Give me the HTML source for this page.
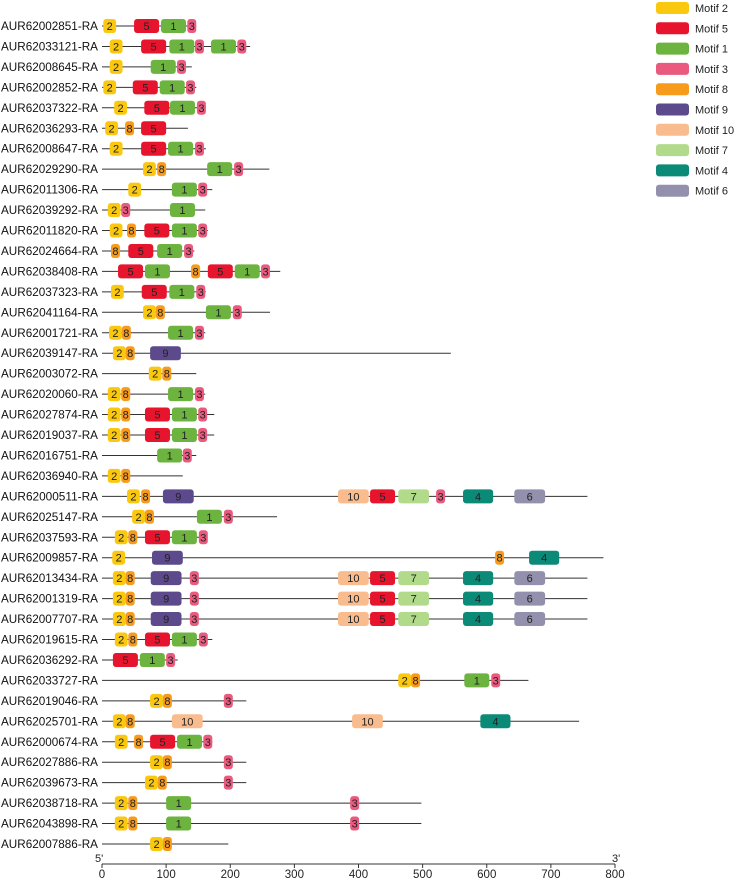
<!DOCTYPE html>
<html><head><meta charset="utf-8"><style>
body{margin:0;background:#fff;}
svg{display:block;font-family:"Liberation Sans",Arial,sans-serif;}
</style></head><body>
<svg id="chart" width="735" height="879" viewBox="0 0 735 879"></svg>
<script>
const genes=["AUR62002851-RA","AUR62033121-RA","AUR62008645-RA","AUR62002852-RA","AUR62037322-RA","AUR62036293-RA","AUR62008647-RA","AUR62029290-RA","AUR62011306-RA","AUR62039292-RA","AUR62011820-RA","AUR62024664-RA","AUR62038408-RA","AUR62037323-RA","AUR62041164-RA","AUR62001721-RA","AUR62039147-RA","AUR62003072-RA","AUR62020060-RA","AUR62027874-RA","AUR62019037-RA","AUR62016751-RA","AUR62036940-RA","AUR62000511-RA","AUR62025147-RA","AUR62037593-RA","AUR62009857-RA","AUR62013434-RA","AUR62001319-RA","AUR62007707-RA","AUR62019615-RA","AUR62036292-RA","AUR62033727-RA","AUR62019046-RA","AUR62025701-RA","AUR62000674-RA","AUR62027886-RA","AUR62039673-RA","AUR62038718-RA","AUR62043898-RA","AUR62007886-RA"];
const lengths=[147,231,140,147,162,134,162,261,172,161,165,144,278,162,262,161,544,147,161,175,175,147,126,757,273,162,782,757,757,757,172,118,665,225,744,172,225,225,498,498,197];
const motifIds=[[2,5,1,3],[2,5,1,3,1,3],[2,1,3],[2,5,1,3],[2,5,1,3],[2,8,5],[2,5,1,3],[2,8,1,3],[2,1,3],[2,3,1],[2,8,5,1,3],[8,5,1,3],[5,1,8,5,1,3],[2,5,1,3],[2,8,1,3],[2,8,1,3],[2,8,9],[2,8],[2,8,1,3],[2,8,5,1,3],[2,8,5,1,3],[1,3],[2,8],[2,8,9,10,5,7,3,4,6],[2,8,1,3],[2,8,5,1,3],[2,9,8,4],[2,8,9,3,10,5,7,4,6],[2,8,9,3,10,5,7,4,6],[2,8,9,3,10,5,7,4,6],[2,8,5,1,3],[5,1,3],[2,8,1,3],[2,8,3],[2,8,10,10,4],[2,8,5,1,3],[2,8,3],[2,8,3],[2,8,1,3],[2,8,1,3],[2,8]];
const motifStarts=[[2,50,92,133],[12,61,105,145,170,211],[12,76,117],[2,48,90,131],[19,66,106,148],[5,36,61],[12,61,103,145],[64,86,164,206],[41,109,150],[9,30,106],[12,39,66,109,150],[14,41,86,128],[25,67,139,165,207,248],[14,62,105,147],[64,84,162,204],[11,31,103,145],[17,37,75],[73,94],[9,30,103,145],[9,30,67,109,150],[9,30,67,109,150],[86,126],[9,30],[39,61,95,368,418,462,521,563,643],[47,67,148,190],[20,41,67,109,151],[16,78,613,666],[17,37,76,137,368,418,462,563,643],[17,37,76,137,368,418,462,563,643],[17,37,76,137,368,418,462,563,643],[20,41,67,109,151],[17,59,100],[462,482,565,607],[75,95,190],[17,37,109,390,590],[20,50,75,117,158],[75,95,190],[67,87,190],[20,41,100,387],[20,41,100,387],[75,95]];
const motifWidths={1:39,2:20,3:14,4:47,5:39,6:48,7:48,8:14,9:48,10:48};
const motifColors={1:"#6db33f",2:"#fac80e",3:"#e95a7e",4:"#0b8a78",5:"#e6152d",6:"#9290ac",7:"#b1db8b",8:"#f79b1c",9:"#5c4a8c",10:"#f9bc8e"};
const legendOrder=[2,5,1,3,8,9,10,7,4,6];
const axisTicks=[0,100,200,300,400,500,600,700,800];

const NS="http://www.w3.org/2000/svg";
const svg=document.getElementById('chart');
const x0=102,x1=615,maxU=800;
const xs=u=>x0+u*(x1-x0)/maxU;
const ys=i=>26+i*20.45;
function mk(tag,attrs,parent){const e=document.createElementNS(NS,tag);for(const k in attrs)e.setAttribute(k,attrs[k]);(parent||svg).appendChild(e);return e;}

genes.forEach((g,i)=>{
  const grp=mk('g',{});
  
  
  const y=ys(i);
  const t=mk('text',{x:1,y:y+4,'font-size':11.5,textLength:97,lengthAdjust:'spacingAndGlyphs',fill:'#111'},grp);
  t.textContent=g;
  
  
  const l=mk('line',{x1:xs(0),x2:xs(lengths[i]),y1:y,y2:y,stroke:'#333','stroke-width':1},grp);
  
  
  motifIds[i].forEach((m,j)=>{
    const s=motifStarts[i][j];
    const bx=xs(s),bw=xs(s+motifWidths[m])-bx;
    const r=mk('rect',{x:bx,y:y-7,width:bw,height:14,rx:3,fill:motifColors[m]},grp);
    
    
    const tt=mk('text',{x:bx+bw/2,y:y+4,'text-anchor':'middle','font-size':11,fill:'#222'},grp);
    tt.textContent=m;
    
    
  });
});

// axis
const ax=mk('g',{});


mk('line',{x1:x0,x2:x1,y1:864,y2:864,stroke:'#333','stroke-width':1},ax);
axisTicks.forEach(v=>{
  const tl=mk('line',{x1:xs(v),x2:xs(v),y1:864,y2:868,stroke:'#333'},ax);
  
  
  const tx=mk('text',{x:xs(v),y:878,'text-anchor':'middle','font-size':11.5,fill:'#222'},ax);
  tx.textContent=v;
  
  
});
const p5=mk('text',{x:95,y:862,'font-size':11,fill:'#222'},ax);p5.textContent="5'";


const p3=mk('text',{x:612,y:862,'font-size':11,fill:'#222'},ax);p3.textContent="3'";



// legend
const lg=mk('g',{});


legendOrder.forEach((m,k)=>{
  const y=2+k*20.3;
  const e=mk('g',{},lg);
  
  
  mk('rect',{x:656,y:y,width:33,height:12,rx:3,fill:motifColors[m]},e);
  const t=mk('text',{x:695,y:y+10,'font-size':11,fill:'#222'},e);
  t.textContent='Motif '+m;
});
</script>
</body></html>
